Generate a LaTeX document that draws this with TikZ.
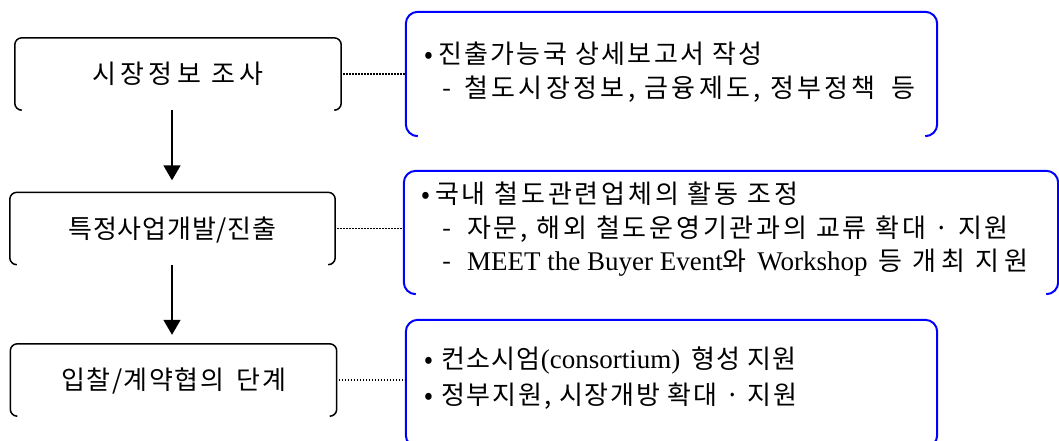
\documentclass[tikz,border=0pt]{standalone}
\usepackage{fontspec}
\setmainfont{Noto Sans CJK KR}
\newfontfamily\tm{Liberation Serif}
\usetikzlibrary{arrows.meta}
\definecolor{bluebox}{RGB}{0,0,255}
\newcommand\ls[1]{\addfontfeature{LetterSpace=#1}}
\newcommand\lat[1]{{\tm\fontsize{27}{30}\selectfont #1}}
\newcommand\bul[1][14pt]{\makebox[#1][l]{•}}
\newcommand\dsh[1][22pt]{\makebox[#1][l]{-}}
\newcommand\openbox[3]{\draw[#3,rounded corners=#2]([xshift=#2]#1.south west) -- (#1.south west) -- (#1.north west) -- (#1.north east) -- (#1.south east) -- ([xshift=-#2]#1.south east);}
\begin{document}
\begin{tikzpicture}[x=1pt,y=-1pt,
  txt/.style={font=\fontsize{26}{31}\selectfont, inner sep=0pt, text height=20.8pt, text depth=1.3pt},
  stage/.style={txt, minimum width=326pt, minimum height=72pt},
  panel/.style={minimum width=531pt, minimum height=124pt, inner sep=0pt},
  tline/.style={txt, anchor=west},
  leftline/.style={black, line width=1.5pt},
  blueline/.style={bluebox, line width=2pt},
  dots/.style={black, line width=1.6pt, dash pattern=on 1.5pt off 1.5pt},
  arr/.style={black, line width=1.5pt, -{Triangle[width=17pt,length=15pt]}}
]
\useasboundingbox (0,0) rectangle (1059,440);

% left stages
\node[stage] (L1) at (178,74) {\ls{17}시장정보 조사};
\node[stage, minimum width=325pt] (L2) at (172.5,228.5) {\ls{3}특정사업개발/진출};
\node[stage] (L3) at (173.5,380) {\ls{6}입찰/계약협의\hspace{5pt} 단계};
\openbox{L1}{7pt}{leftline}
\openbox{L2}{7pt}{leftline}
\openbox{L3}{7pt}{leftline}

% right panels
\node[panel] (R1) at (671.5,74) {};
\node[panel, minimum width=654pt, minimum height=123pt] (R2) at (731,232.5) {};
\node[panel, minimum height=127pt] (R3) at (671.5,383.5) {};
\openbox{R1}{12pt}{blueline}
\openbox{R2}{12pt}{blueline}
\openbox{R3}{12pt}{blueline}

% panel texts
\node[tline] (r1a) at (424,54) {\bul\ls{9}진출가능국 상세보고서 작성};
\node[tline] (r1b) at (442,88) {\dsh\ls{13}철도시장정보, 금융제도, 정부정책\hspace{6pt} 등};
\node[tline] (r2a) at (421,194) {\bul\ls{11}국내 철도관련업체의 활동 조정};
\node[tline] (r2b) at (442,228) {\dsh[25pt]\ls{11}자문, 해외 철도운영기관과의 교류 확대 · 지원};
\node[tline] (r2c) at (442,261) {\dsh[25pt]\lat{MEET the Buyer Event}\ls{18}와 \lat{Workshop} 등 개최 지원};
\node[tline] (r3a) at (424,359) {\bul[17pt]\ls{5}컨소시엄\lat{(consortium)}\hspace{4pt} 형성 지원};
\node[tline] (r3b) at (424,395) {\bul[17pt]\ls{7}정부지원, 시장개방 확대 · 지원};

% connectors
\coordinate (ax) at (172,0);
\draw[arr, shorten >=12pt] (L1.south -| ax) -- (L2.north -| ax);
\draw[arr, shorten >=9pt] (L2.south -| ax) -- (L3.north -| ax);
\draw[dots] ([xshift=2pt]L1.east) -- (L1.east -| R1.west);
\draw[dots] ([xshift=2pt]L2.east) -- (L2.east -| R2.west);
\draw[dots] ([xshift=2pt]L3.east) -- (L3.east -| R3.west);
\end{tikzpicture}
\end{document}
